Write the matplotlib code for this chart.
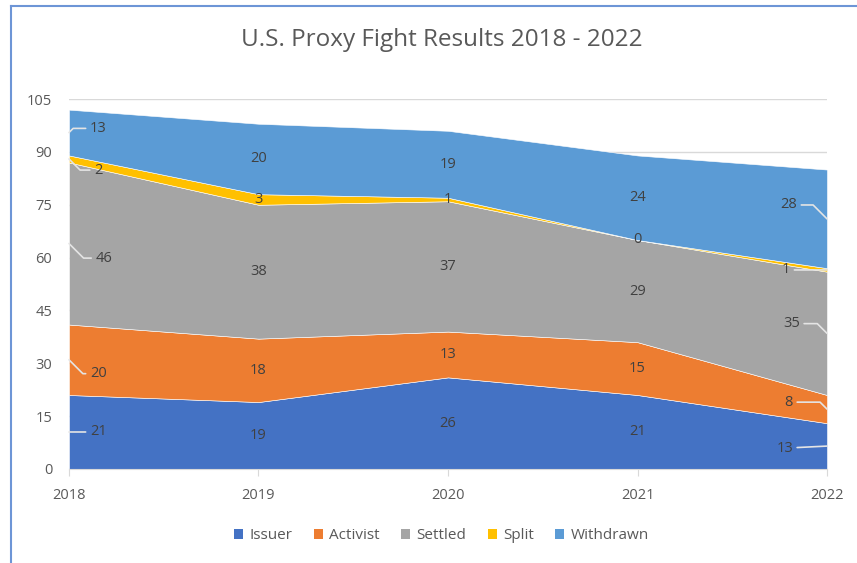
import numpy as np
import matplotlib
matplotlib.use("Agg")
import matplotlib.pyplot as plt
from matplotlib.lines import Line2D
from matplotlib.patches import Patch

plt.rcParams["font.family"] = ["Open Sans", "DejaVu Sans"]

years = ["2018", "2019", "2020", "2021", "2022"]
series = ["Issuer", "Activist", "Settled", "Split", "Withdrawn"]
issuer = [21, 19, 26, 21, 13]
activist = [20, 18, 13, 15, 8]
settled = [46, 38, 37, 29, 35]
split = [2, 3, 1, 0, 1]
withdrawn = [13, 20, 19, 24, 28]

colors = ["#4472C4", "#ED7D31", "#A5A5A5", "#FFC000", "#5B9BD5"]
grey = "#595959"

# label offsets (points) for the end labels, with leader lines
left_off = [(15, 0), (15, -10), (19, -10.5), (18, -8), (15, 3)]
right_off = [(-24.5, -1.5), (-24.5, 5), (-19.5, 7), (-26.5, 0), (-21.5, 10)]

fig = plt.figure(figsize=(8.57, 5.63), dpi=100)
ax = fig.add_axes([0.0805, 0.167, 0.8845, 0.657])

x = np.arange(len(years))
data = np.array([issuer, activist, settled, split, withdrawn], dtype=float)
ax.stackplot(x, data, colors=colors, edgecolor="white", linewidth=0.4, zorder=2)

ax.set_xlim(0, len(years) - 1)
ax.set_ylim(0, 105)
ax.set_yticks(np.arange(0, 106, 15))
ax.set_xticks(x)
ax.set_xticklabels(years)
ax.grid(axis="y", color="#d9d9d9", linewidth=1, zorder=0)
ax.set_axisbelow(True)
for s in ["top", "right", "left"]:
    ax.spines[s].set_visible(False)
ax.spines["bottom"].set_color("#d9d9d9")
ax.tick_params(axis="y", length=0, pad=12, labelsize=10.5, labelcolor=grey)
ax.tick_params(axis="x", length=5, color="#d9d9d9", pad=9, labelsize=10.5,
               labelcolor=grey, direction="out")

bottoms = np.vstack([np.zeros(len(years)), np.cumsum(data, axis=0)[:-1]])
mids = bottoms + data / 2
txt = "#404040"
for i in range(len(series)):
    for j in range(len(years)):
        val = "%d" % data[i, j]
        if j == 0 or j == len(years) - 1:
            dx, dy = left_off[i] if j == 0 else right_off[i]
            ha = "left" if j == 0 else "right"
            if abs(dy) < 2:
                conn = "arc3,rad=0"
            else:
                ang = 45 if (dx > 0) == (dy > 0) else -45
                conn = "angle,angleA=0,angleB=%d,rad=0" % ang
            ax.annotate(val, (x[j], mids[i, j]), xytext=(dx, dy), textcoords="offset points",
                        ha=ha, va="center", fontsize=10.5, color=txt, zorder=5,
                        annotation_clip=False,
                        arrowprops=dict(arrowstyle="-", color="#e4e4e4", lw=1.2,
                                        shrinkA=1, shrinkB=0, connectionstyle=conn))
        else:
            ax.text(x[j], mids[i, j], val, ha="center", va="center",
                    fontsize=10.5, color=txt, zorder=5)

fig.text(0.515, 0.929, "U.S. Proxy Fight Results 2018 - 2022", ha="center", va="center",
         fontsize=17.5, color=grey)

handles = [Patch(facecolor=c, edgecolor="none") for c in colors]
fig.legend(handles, series, loc="center", bbox_to_anchor=(0.515, 0.048), ncol=5,
           frameon=False, fontsize=11, labelcolor=grey, handlelength=0.6,
           handleheight=0.6, handletextpad=0.4, columnspacing=1.4)

# outer chart frame (left and top edges visible)
fig.add_artist(Line2D([0.013, 0.013], [0, 0.99], color="#6d95d6", lw=1.5,
                      transform=fig.transFigure))
fig.add_artist(Line2D([0.013, 1], [0.99, 0.99], color="#6d95d6", lw=1.5,
                      transform=fig.transFigure))

fig.savefig("out.png", dpi=100)
